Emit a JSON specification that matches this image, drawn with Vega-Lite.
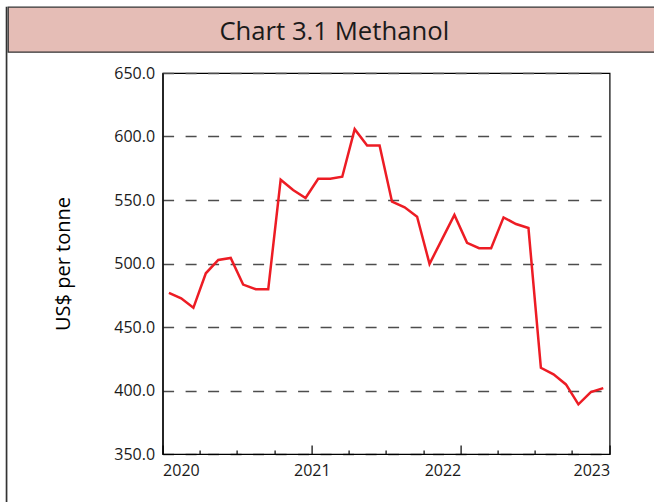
{
  "$schema": "https://vega.github.io/schema/vega-lite/v6.json",
  "padding": {"left": 5, "top": 6, "right": 0, "bottom": 0},
  "background": "white",
  "config": {
    "font": "Open Sans",
    "view": {"stroke": null},
    "axis": {"labelFont": "Open Sans", "titleFont": "Open Sans"}
  },
  "spacing": -2,
  "hconcat": [
    {
      "width": 0.5,
      "height": 495,
      "view": {"stroke": "#333333", "strokeWidth": 1.2},
      "data": {"values": [{"label": ""}]},
      "mark": "text",
      "encoding": {"text": {"field": "label", "type": "nominal"}}
    },
    {
      "spacing": 11,
      "vconcat": [
        {
          "width": 648.5,
          "height": 45,
          "view": {"fill": "#E5BDB6", "stroke": "#333333", "strokeWidth": 1.3},
          "data": {"values": [{"label": "Chart 3.1 Methanol"}]},
          "mark": {"type": "text", "font": "Open Sans", "fontSize": 25.7, "color": "#1a1a1a", "baseline": "alphabetic", "align": "center", "dy": 10.5, "dx": 2},
          "encoding": {"text": {"field": "label", "type": "nominal"}}
        },
        {
          "spacing": 43.6,
          "hconcat": [
            {
              "width": 1,
              "height": 381,
              "view": {"stroke": null},
              "data": {"values": [{"label": ""}]},
              "mark": "text",
              "encoding": {"text": {"field": "label", "type": "nominal"}}
            },
            {
              "width": 447,
              "height": 381,
              "view": {"stroke": "#000000", "strokeWidth": 1.2},
              "data": {
                "values": [
                  {"month": "2020-01", "price": 476.9},
                  {"month": "2020-02", "price": 472.6},
                  {"month": "2020-03", "price": 465.1},
                  {"month": "2020-04", "price": 492.3},
                  {"month": "2020-05", "price": 502.8},
                  {"month": "2020-06", "price": 504.4},
                  {"month": "2020-07", "price": 483.4},
                  {"month": "2020-08", "price": 479.7},
                  {"month": "2020-09", "price": 479.7},
                  {"month": "2020-10", "price": 566.0},
                  {"month": "2020-11", "price": 557.9},
                  {"month": "2020-12", "price": 551.6},
                  {"month": "2021-01", "price": 566.7},
                  {"month": "2021-02", "price": 566.7},
                  {"month": "2021-03", "price": 568.3},
                  {"month": "2021-04", "price": 605.8},
                  {"month": "2021-05", "price": 592.9},
                  {"month": "2021-06", "price": 592.9},
                  {"month": "2021-07", "price": 548.7},
                  {"month": "2021-08", "price": 544.2},
                  {"month": "2021-09", "price": 536.9},
                  {"month": "2021-10", "price": 499.7},
                  {"month": "2021-11", "price": 519.0},
                  {"month": "2021-12", "price": 538.2},
                  {"month": "2022-01", "price": 516.3},
                  {"month": "2022-02", "price": 512.0},
                  {"month": "2022-03", "price": 512.0},
                  {"month": "2022-04", "price": 536.3},
                  {"month": "2022-05", "price": 531.1},
                  {"month": "2022-06", "price": 528.0},
                  {"month": "2022-07", "price": 417.9},
                  {"month": "2022-08", "price": 412.7},
                  {"month": "2022-09", "price": 404.8},
                  {"month": "2022-10", "price": 389.1},
                  {"month": "2022-11", "price": 398.7},
                  {"month": "2022-12", "price": 401.9}
                ]
              },
              "mark": {"type": "line", "color": "#ED1C24", "strokeWidth": 2.5},
              "encoding": {
                "x": {
                  "field": "month",
                  "timeUnit": "utcyearmonth",
                  "type": "temporal",
                  "bandPosition": 0.5,
                  "scale": {
                    "type": "utc",
                    "domain": [
                      {"year": 2020, "month": 1, "date": 1, "utc": true},
                      {"year": 2023, "month": 1, "date": 1, "utc": true}
                    ],
                    "nice": false
                  },
                  "axis": {
                    "values": [
                      {"year": 2020, "month": 1, "date": 1, "utc": true},
                      {"year": 2020, "month": 4, "date": 1, "utc": true},
                      {"year": 2020, "month": 7, "date": 1, "utc": true},
                      {"year": 2020, "month": 10, "date": 1, "utc": true},
                      {"year": 2021, "month": 1, "date": 1, "utc": true},
                      {"year": 2021, "month": 4, "date": 1, "utc": true},
                      {"year": 2021, "month": 7, "date": 1, "utc": true},
                      {"year": 2021, "month": 10, "date": 1, "utc": true},
                      {"year": 2022, "month": 1, "date": 1, "utc": true},
                      {"year": 2022, "month": 4, "date": 1, "utc": true},
                      {"year": 2022, "month": 7, "date": 1, "utc": true},
                      {"year": 2022, "month": 10, "date": 1, "utc": true},
                      {"year": 2023, "month": 1, "date": 1, "utc": true}
                    ],
                    "title": null,
                    "grid": false,
                    "domain": true,
                    "domainColor": "#000000",
                    "domainWidth": 1.2,
                    "tickColor": "#000000",
                    "tickWidth": 1.2,
                    "tickSize": {"condition": {"test": "utcmonth(datum.value) == 0", "value": -9}, "value": -4},
                    "labelExpr": "utcmonth(datum.value) == 0 ? utcFormat(datum.value, '%Y') : ''",
                    "labelAlign": {
                      "condition": [
                        {"test": "utcyear(datum.value) == 2020", "value": "left"},
                        {"test": "utcyear(datum.value) == 2021", "value": "center"}
                      ],
                      "value": "right"
                    },
                    "labelFlush": false,
                    "labelOverlap": false,
                    "labelBound": false,
                    "labelFontSize": 16,
                    "labelColor": "#1a1a1a",
                    "labelPadding": 17
                  }
                },
                "y": {
                  "field": "price",
                  "type": "quantitative",
                  "scale": {"domain": [350, 650], "nice": false, "zero": false},
                  "axis": {
                    "values": [350, 400, 450, 500, 550, 600, 650],
                    "format": ".1f",
                    "ticks": false,
                    "domain": true,
                    "domainColor": "#000000",
                    "domainWidth": 1.2,
                    "grid": true,
                    "gridColor": "#4d4d4d",
                    "gridDash": [11, 11.5],
                    "gridWidth": 1.4,
                    "labelFontSize": 16,
                    "labelColor": "#1a1a1a",
                    "labelPadding": 8,
                    "title": "US$ per tonne",
                    "titleFontSize": 20,
                    "titleFontWeight": "normal",
                    "titleColor": "#000000",
                    "titlePadding": 40
                  }
                }
              }
            }
          ]
        }
      ]
    }
  ]
}
